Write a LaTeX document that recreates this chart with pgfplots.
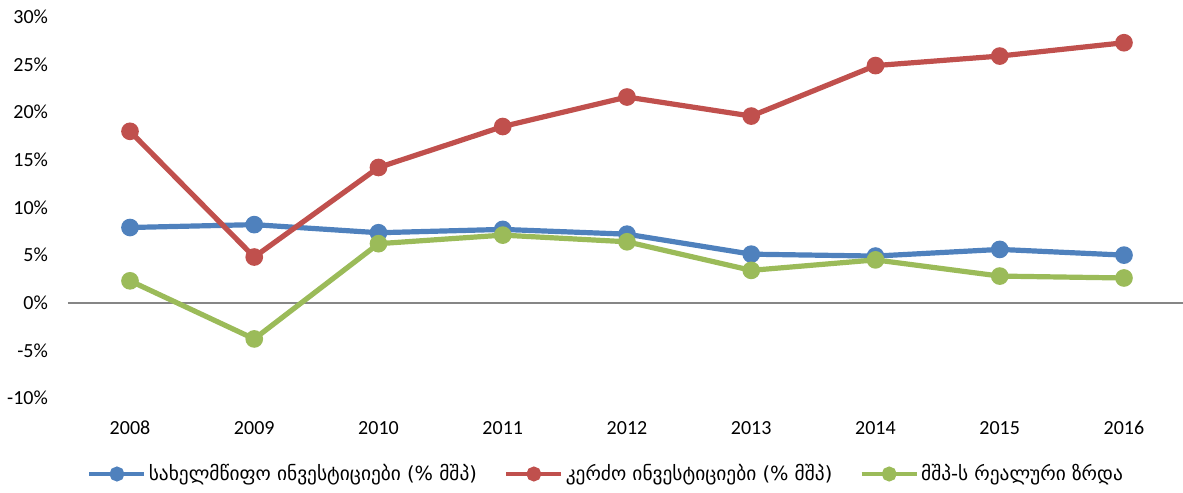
\documentclass[border=0pt]{standalone}
\usepackage{fontspec}
\setmainfont{Carlito}
\newfontfamily\geo{DejaVu Sans}
\usepackage{pgfplots}
\pgfplotsset{compat=1.18}

\definecolor{cblue}{HTML}{4F81BD}
\definecolor{cred}{HTML}{C0504D}
\definecolor{cgreen}{HTML}{9BBB59}
\definecolor{zgray}{HTML}{868686}

\begin{document}
\begin{tikzpicture}
\begin{axis}[
    name=ax,
    scale only axis,
    width=557.5pt, height=190.5pt,
    xmin=-0.499, xmax=8.475,
    ymin=-10, ymax=30,
    axis line style={draw=none},
    major tick length=0pt,
    xtick={0,...,8},
    xticklabels={2008,2009,2010,2011,2012,2013,2014,2015,2016},
    ytick={-10,-5,0,5,10,15,20,25,30},
    yticklabels={-10\%,-5\%,0\%,5\%,10\%,15\%,20\%,25\%,30\%},
    ticklabel style={font=\fontsize{10}{12}\selectfont},
    yticklabel style={xshift=-6.5pt},
    xticklabel style={yshift=-8pt},
    extra y ticks={0},
    extra y tick labels={},
    extra y tick style={grid=major, major grid style={zgray, line width=0.8pt}},
    every axis plot/.append style={line width=2.6pt, mark=*, mark size=3.1pt},
    legend columns=3,
    legend style={at={(0.4825,-0.1995)}, anchor=center, draw=none,
        font=\geo\fontsize{9.7}{11}\selectfont,
        nodes={inner xsep=1pt},
        /tikz/every even column/.append style={column sep=12.5pt}},
    legend image code/.code={\draw[#1, line width=2.4pt, mark size=2.5pt, mark repeat=2, mark phase=2]
        plot coordinates {(0pt,0pt) (13.75pt,0pt) (27.5pt,0pt)};},
]
\addplot[cblue, mark options={fill=cblue, draw=cblue}] coordinates {
    (0,7.9) (1,8.2) (2,7.35) (3,7.7) (4,7.2) (5,5.1) (6,4.9) (7,5.6) (8,5.0)};
\addplot[cred, mark options={fill=cred, draw=cred}] coordinates {
    (0,18.0) (1,4.8) (2,14.2) (3,18.5) (4,21.6) (5,19.6) (6,24.9) (7,25.9) (8,27.3)};
\addplot[cgreen, mark options={fill=cgreen, draw=cgreen}] coordinates {
    (0,2.3) (1,-3.8) (2,6.2) (3,7.1) (4,6.4) (5,3.4) (6,4.5) (7,2.8) (8,2.6)};
\legend{სახელმწიფო ინვესტიციები (\% მშპ), კერძო ინვესტიციები (\% მშპ), მშპ-ს რეალური ზრდა}
\end{axis}
\pgfresetboundingbox
\useasboundingbox ([xshift=-34pt, yshift=-47.5pt]ax.south west) rectangle ([yshift=8.5pt]ax.north east);
\end{tikzpicture}
\end{document}
